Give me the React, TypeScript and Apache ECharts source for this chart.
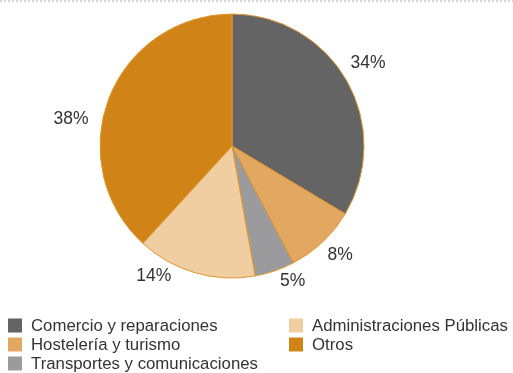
import React, { useEffect, useRef } from "react";
import * as echarts from "echarts";

const categories = [
  "Comercio y reparaciones",
  "Hostelería y turismo",
  "Transportes y comunicaciones",
  "Administraciones Públicas",
  "Otros",
];
const shares = [33.6, 8.7, 4.9, 14.6, 38.2];
const labelTexts = ["34%", "8%", "5%", "14%", "38%"];
const colors = ["#646464", "#E2A862", "#9B9B9D", "#F0CEA2", "#D08418"];
const legendCol1 = categories.slice(0, 3);
const legendCol2 = categories.slice(3);

// small visual nudges of the percentage labels from ECharts' default outside placement
const labelNudge: [number, number][] = [
  [-10, -14],
  [-7, 5],
  [-3, 0],
  [-16, -7],
  [-6, 23],
];

export default function App() {
  const ref = useRef<HTMLDivElement>(null);
  useEffect(() => {
    if (!ref.current) return;
    const chart = echarts.init(ref.current, null, { renderer: "svg" });
    const font = "'Liberation Sans', Arial, Helvetica, sans-serif";
    const legendBase = {
      orient: "vertical" as const,
      icon: "rect",
      itemWidth: 14,
      itemHeight: 14,
      itemGap: 2,
      padding: 0,
      height: 70,
      selectedMode: false,
      itemStyle: { borderWidth: 0 },
      textStyle: {
        fontFamily: font,
        fontSize: 16.8,
        color: "#333",
        padding: [0, 0, 0, 4],
      },
    };
    chart.setOption({
      animation: false,
      color: colors,
      graphic: [
        {
          type: "line",
          shape: { x1: 0, y1: 1, x2: 513, y2: 1 },
          style: { stroke: "#aaa", lineWidth: 1, lineDash: [2, 2] },
        },
      ],
      legend: [
        { ...legendBase, left: 8, top: 317, data: legendCol1 },
        { ...legendBase, left: 289, top: 317, data: legendCol2 },
      ],
      series: [
        {
          type: "pie",
          center: [232, 146],
          radius: 132,
          startAngle: 90,
          clockwise: true,
          itemStyle: { borderColor: "#E0962E", borderWidth: 1 },
          label: {
            show: true,
            position: "outside",
            fontFamily: font,
            fontSize: 17.5,
            color: "#333",
            formatter: (p: any) => labelTexts[p.dataIndex],
          },
          labelLine: { show: false, length: 10, length2: 0 },
          labelLayout: (p: any) => ({
            dx: labelNudge[p.dataIndex][0],
            dy: labelNudge[p.dataIndex][1],
          }),
          emphasis: { disabled: true },
          data: categories.map((name, i) => ({ name, value: shares[i] })),
        },
      ],
    });
    return () => chart.dispose();
  }, []);
  return (
    <div
      ref={ref}
      style={{ position: "fixed", left: 0, top: 0, width: 513, height: 373 }}
    />
  );
}
